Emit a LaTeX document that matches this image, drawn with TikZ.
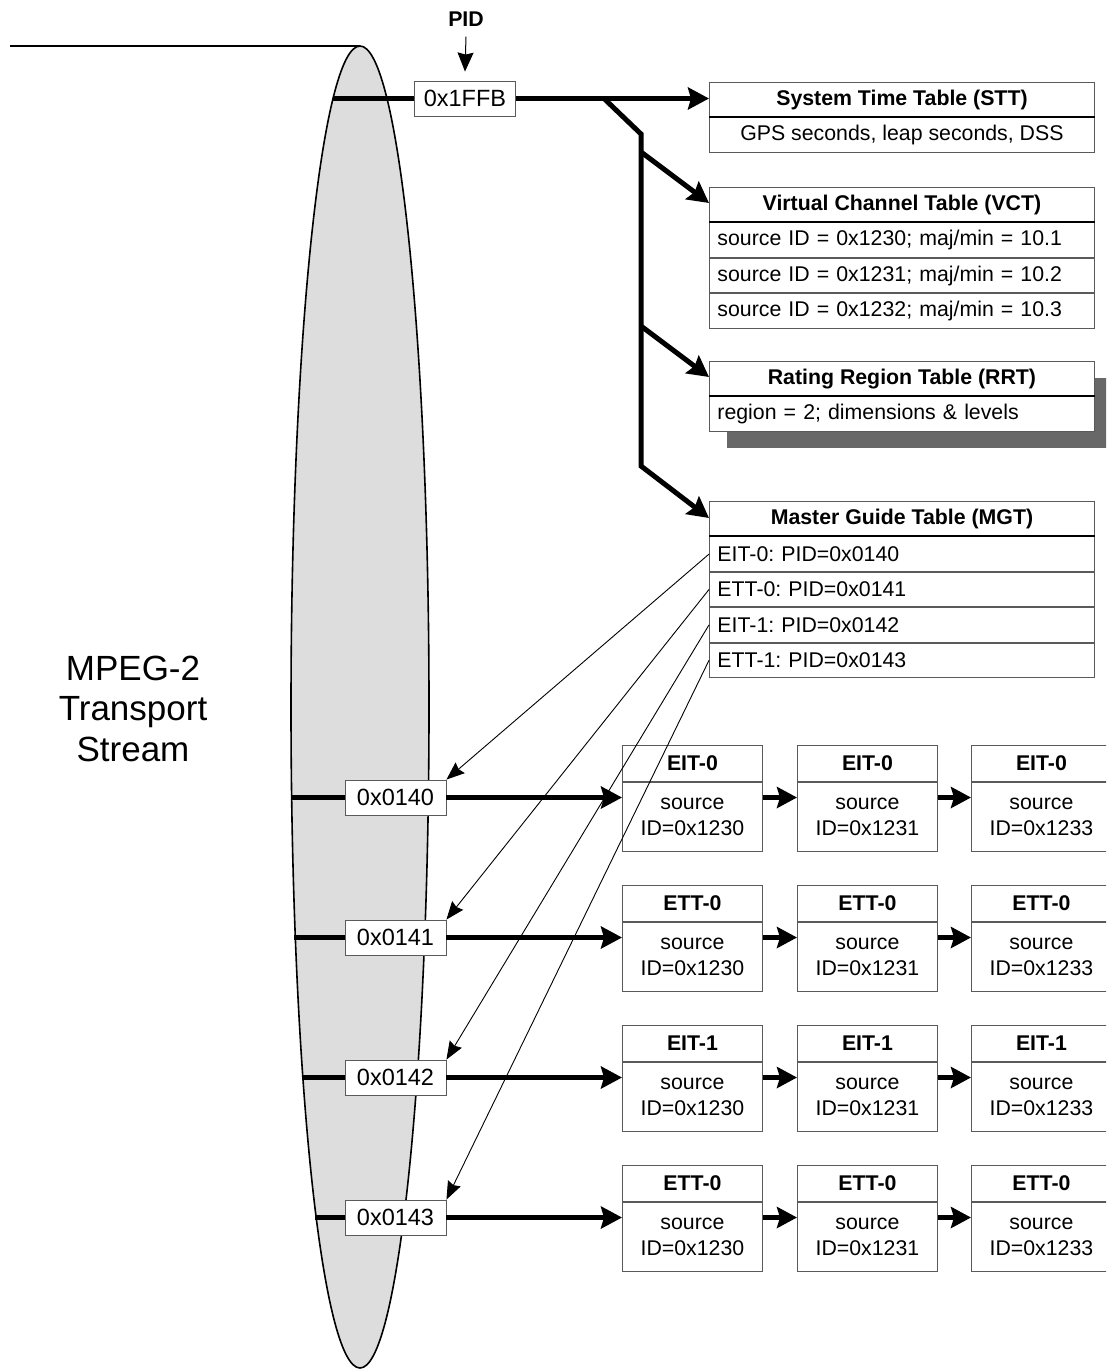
\documentclass[tikz,border=0pt]{standalone}
\usepackage{fontspec}
\setmainfont{Liberation Sans}
\usetikzlibrary{arrows.meta}
\definecolor{ellfill}{RGB}{221,221,221}
\definecolor{boxline}{RGB}{90,90,90}
\definecolor{shadowgray}{RGB}{104,104,104}
\newcommand\tabfont{\fontsize{21.3}{25}\selectfont}
\newcommand\pidfont{\fontsize{23.5}{27}\selectfont}
\tikzset{
  bigline/.style={line width=5pt},
  bigarrow/.style={line width=5pt,-{Stealth[length=21pt,width=22pt,inset=3pt]}},
  midarrow/.style={line width=5pt,-{Stealth[length=20pt,width=21pt,inset=3pt]}},
  thinarrow/.style={line width=0.9pt,-{Stealth[length=18pt,width=14pt,inset=2pt]}},
  pidarrow/.style={line width=1pt,-{Stealth[length=19pt,width=16pt,inset=2pt]}},
  cellbase/.style={draw=boxline,line width=0.9pt,fill=white,inner sep=0pt,anchor=north west,font=\tabfont},
  hdr/.style={cellbase,minimum width=385pt,minimum height=34.5pt,align=center,font=\tabfont\bfseries},
  rowc/.style={cellbase,minimum width=385pt,minimum height=34.5pt,align=center},
  rowl/.style={cellbase,minimum height=34.5pt,text width=369pt,inner xsep=8pt,align=left},
  pidbox/.style={draw=boxline,line width=0.9pt,fill=white,minimum width=101pt,minimum height=35pt,inner sep=0pt,font=\pidfont},
  chh/.style={cellbase,minimum width=140pt,minimum height=36pt,font=\tabfont\bfseries},
  chb/.style={cellbase,minimum width=140pt,minimum height=69pt,align=center,font=\fontsize{21.3}{26}\selectfont},
}
\begin{document}
\frenchspacing
\begin{tikzpicture}[x=1pt,y=-1pt,line join=miter]
\clip (0,0) rectangle (1106,1371);
% transport stream
\coordinate (tl) at (10,46);
\coordinate (etop) at (360,46);
\draw[line width=1.5pt] (tl) -- (etop);
\draw[line width=1.6pt,fill=ellfill] (360,707) ellipse [x radius=69, y radius=661];
\node[align=center,font=\fontsize{35}{40.5}\selectfont] (ts) at (133,708.5) {MPEG-2\\Transport\\Stream};

% PID header
\node[font=\tabfont\bfseries,inner sep=0pt] (pid) at (466,19) {PID};
\node[pidbox] (p1ffb) at (465,98.5) {0x1FFB};
\draw[pidarrow] ([yshift=-10pt]pid.south) -- ([yshift=9pt]p1ffb.north);

% RRT shadow
\fill[shadowgray] (727,378) rectangle (1115,448);

% STT
\node[hdr] (stt) at (709,82) {System Time Table (STT)};
\node[rowc] (stt1) at (stt.south west) {GPS seconds, leap seconds, DSS};
\draw[line width=2pt] (stt.south west) -- (stt.south east);

% VCT
\node[hdr] (vct) at (709,187) {Virtual Channel Table (VCT)};
\node[rowl] (vct1) at (vct.south west) {source ID = 0x1230; maj/min = 10.1};
\node[rowl] (vct2) at (vct1.south west) {source ID = 0x1231; maj/min = 10.2};
\node[rowl] (vct3) at (vct2.south west) {source ID = 0x1232; maj/min = 10.3};
\draw[line width=2pt] (vct.south west) -- (vct.south east);

% RRT
\node[hdr] (rrt) at (709,361) {Rating Region Table (RRT)};
\node[rowl] (rrt1) at (rrt.south west) {region = 2; dimensions \& levels};
\draw[line width=2pt] (rrt.south west) -- (rrt.south east);

% MGT
\node[hdr] (mgt) at (709,501) {Master Guide Table (MGT)};
\node[rowl] (mgt1) at (mgt.south west) {EIT-0: PID=0x0140};
\node[rowl] (mgt2) at (mgt1.south west) {ETT-0: PID=0x0141};
\node[rowl] (mgt3) at (mgt2.south west) {EIT-1: PID=0x0142};
\node[rowl] (mgt4) at (mgt3.south west) {ETT-1: PID=0x0143};
\draw[line width=2pt] (mgt.south west) -- (mgt.south east);

% PID 0x1FFB distribution
\coordinate (e0) at (333,98.5);
\coordinate (b0) at (604,98.5);
\coordinate (b1) at (641,134);
\coordinate (b2) at (641,152);
\coordinate (b3) at (641,326);
\coordinate (b4) at (641,466);
\draw[bigline] (e0) -- (p1ffb.west);
\draw[bigarrow] (p1ffb.east) -- (p1ffb.east -| stt.west);
\draw[bigarrow] (b0) -- (b1) -- (b4) -- ([yshift=-17pt]mgt.north west);
\draw[bigarrow] (b2) -- ([yshift=-16pt]vct.north west);
\draw[bigarrow] (b3) -- ([yshift=-16pt]rrt.north west);

% EIT / ETT streams
\foreach \r/\lab/\pid/\ex [count=\i] in {0/EIT-0/0140/290.6, 1/ETT-0/0141/294.4, 2/EIT-1/0142/302, 3/ETT-0/0143/315.3} {
  \pgfmathsetmacro\yb{797.5+140*\r}
  \pgfmathsetmacro\yh{745+140*\r}
  \node[pidbox] (p\i) at (395.5,\yb) {0x\pid};
  \coordinate (e\i) at (\ex,\yb);
  \draw[bigline] (e\i) -- (p\i.west);
  \foreach \c/\xx/\sid in {1/622/1230, 2/797/1231, 3/971/1233} {
    \node[chh] (h\i\c) at (\xx,\yh) {\lab};
    \node[chb] (b\i\c) at (h\i\c.south west) {source\\ID=0x\sid};
  }
  \draw[bigarrow] (p\i.east) -- (p\i.east -| b\i1.west);
  \draw[midarrow] (p\i.east -| b\i1.east) -- (p\i.east -| b\i2.west);
  \draw[midarrow] (p\i.east -| b\i2.east) -- (p\i.east -| b\i3.west);
}

% MGT pointers
\draw[thinarrow] (mgt1.west) -- (p1.north east);
\draw[thinarrow] (mgt2.west) -- (p2.north east);
\draw[thinarrow] (mgt3.west) -- (p3.north east);
\draw[thinarrow] (mgt4.west) -- (p4.north east);
\end{tikzpicture}
\end{document}
